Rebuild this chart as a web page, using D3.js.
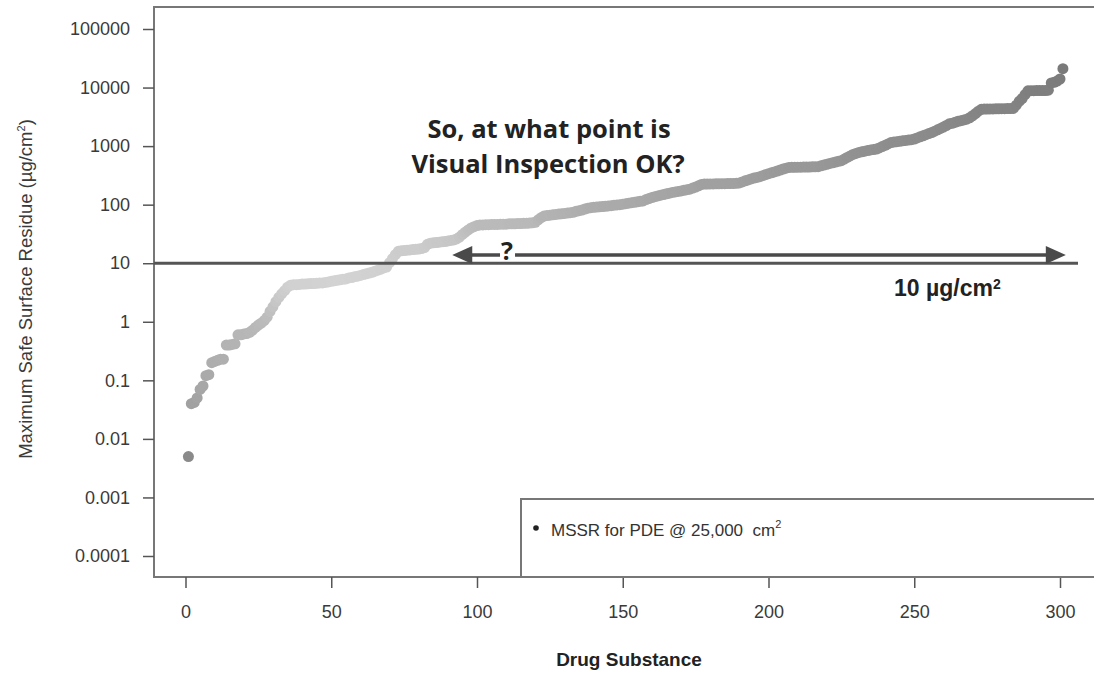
<!DOCTYPE html>
<html>
<head>
<meta charset="utf-8">
<script src="https://cdn.jsdelivr.net/npm/d3@7"></script>
<style>
  body { margin: 0; background: #fff; }
  svg { display: block; }
  text { white-space: pre; }
</style>
</head>
<body>
<script>
// MSSR values (ug/cm2) for each drug substance, sorted ascending
var mssr = [
  0.005, 0.04, 0.042, 0.05, 0.07, 0.08, 0.12, 0.125, 0.2, 0.21,
  0.22, 0.23, 0.23, 0.4, 0.4, 0.41, 0.42, 0.6, 0.6, 0.62,
  0.63, 0.66, 0.72, 0.8, 0.88, 0.95, 1.05, 1.2, 1.5, 1.8,
  2.2, 2.6, 3.0, 3.4, 3.9, 4.2, 4.3, 4.3, 4.35, 4.4,
  4.4, 4.45, 4.5, 4.5, 4.55, 4.6, 4.6, 4.7, 4.8, 4.9,
  5.0, 5.1, 5.2, 5.3, 5.4, 5.6, 5.7, 5.9, 6.0, 6.2,
  6.4, 6.6, 6.8, 7.0, 7.3, 7.6, 7.9, 8.3, 8.6, 10.2,
  12, 14, 16, 16.3, 16.5, 16.7, 16.9, 17.1, 17.3, 17.5,
  17.8, 18.5, 21, 22, 22.3, 22.6, 22.9, 23.2, 23.5, 24,
  24.5, 25, 26, 28, 31, 34, 37, 40, 42, 44,
  45, 45, 45.5, 45.5, 46, 46, 46, 46.5, 46.5, 46.5,
  47, 47, 47, 47.5, 47.5, 48, 48, 48.5, 49, 50,
  55, 60, 64, 65, 66, 67, 68, 69, 70, 71,
  72, 73, 74, 77, 79, 81, 84, 87, 89, 90,
  91, 92, 93, 94, 95, 96, 98, 99, 100, 102,
  104, 106, 108, 110, 112, 114, 116, 122, 127, 132,
  137, 141, 145, 149, 153, 157, 162, 165, 168, 172,
  176, 180, 184, 192, 200, 210, 222, 225, 225, 226,
  226, 227, 227, 228, 228, 229, 229, 230, 232, 235,
  245, 255, 265, 275, 285, 292, 300, 312, 325, 338,
  350, 362, 375, 390, 405, 420, 432, 434, 435, 436,
  437, 438, 439, 440, 442, 444, 446, 460, 475, 490,
  505, 520, 535, 550, 565, 600, 640, 680, 720, 750,
  780, 800, 820, 840, 860, 875, 890, 930, 980, 1030,
  1090, 1150, 1170, 1190, 1210, 1230, 1250, 1270, 1290, 1320,
  1380, 1440, 1500, 1570, 1640, 1700, 1800, 1900, 2000, 2120,
  2250, 2400, 2450, 2550, 2650, 2720, 2800, 2880, 3050, 3300,
  3600, 3950, 4250, 4300, 4300, 4320, 4320, 4340, 4340, 4360,
  4360, 4380, 4380, 4400, 5000, 5800, 6500, 7600, 8800, 8850,
  8850, 8870, 8870, 8900, 8900, 9000, 12000, 12300, 12900, 14000,
  21000
];

var xTicks = [0, 50, 100, 150, 200, 250, 300];
var yTicks = [0.0001, 0.001, 0.01, 0.1, 1, 10, 100, 1000, 10000, 100000];
var yTickLabels = ["0.0001", "0.001", "0.01", "0.1", "1", "10", "100", "1000", "10000", "100000"];

var limitValue = 10;          // visual inspection limit, ug/cm2
var arrowRange = [91.5, 302]; // drug substance span of the "?" arrow
var arrowValue = 13.8;
var questionAt = 110.3;

var svg = d3.select('body').append('svg')
    .attr('width', 1094)
    .attr('height', 673);

var plot = {left: 154, top: 7, bottom: 577, right: 1100};

var x = d3.scaleLinear().domain([0, 300]).range([185.5, 1060]);
var y = d3.scaleLog().domain([1e-4, 1e5]).range([556, 29]);

// grey shade follows the value
var shade = d3.scaleLinear()
    .domain([-2.3, -1.3, 0, 0.7, 1.3, 2, 3, 4.3])
    .range(['#8a8a8a', '#a3a3a3', '#bababa', '#d3d3d3', '#cbcbcb', '#aaaaaa', '#8e8e8e', '#7a7a7a']);

var axisFont = '"Liberation Sans", Arial, sans-serif';

// points
svg.append('g').selectAll('circle')
    .data(mssr)
    .enter().append('circle')
    .attr('cx', function(d, i) { return x(i + 1); })
    .attr('cy', function(d) { return y(d); })
    .attr('r', 5.5)
    .attr('fill', function(d) { return shade(Math.log10(d)); });

// frame
svg.append('rect')
    .attr('x', plot.left)
    .attr('y', plot.top)
    .attr('width', plot.right - plot.left)
    .attr('height', plot.bottom - plot.top)
    .attr('fill', 'none')
    .attr('stroke', '#777')
    .attr('stroke-width', 2);

// axes
var yaxis = svg.append('g')
    .attr('transform', 'translate(' + plot.left + ',0)')
    .call(d3.axisLeft(y).tickValues(yTicks)
        .tickFormat(function(d, i) { return yTickLabels[i]; })
        .tickSize(11).tickSizeOuter(0).tickPadding(13));

var xaxis = svg.append('g')
    .attr('transform', 'translate(0,' + plot.bottom + ')')
    .call(d3.axisBottom(x).tickValues(xTicks)
        .tickSize(11).tickSizeOuter(0).tickPadding(17));

[xaxis, yaxis].forEach(function(a) {
    a.select('.domain').remove();
    a.selectAll('line').attr('stroke', '#555').attr('stroke-width', 1.5);
    a.selectAll('text')
        .attr('fill', '#3a3a3a')
        .style('font-family', axisFont)
        .style('font-size', '18px');
});

// axis titles
var ylab = svg.append('text')
    .attr('transform', 'translate(32,289) rotate(-90)')
    .attr('text-anchor', 'middle')
    .attr('fill', '#3a3a3a')
    .style('font-family', axisFont)
    .style('font-size', '18.5px');
ylab.append('tspan').text('Maximum Safe Surface Residue (µg/cm');
ylab.append('tspan').attr('dy', -7).style('font-size', '11px').text('2');
ylab.append('tspan').attr('dy', 7).text(')');

svg.append('text')
    .attr('x', 629)
    .attr('y', 666)
    .attr('text-anchor', 'middle')
    .attr('fill', '#222')
    .style('font-family', axisFont)
    .style('font-weight', 'bold')
    .style('font-size', '19px')
    .text('Drug Substance');

// 10 ug/cm2 limit line
svg.append('line')
    .attr('x1', plot.left).attr('x2', 1078)
    .attr('y1', y(limitValue)).attr('y2', y(limitValue))
    .attr('stroke', '#555')
    .attr('stroke-width', 3);

// double arrow
var ay = y(arrowValue);
var ax0 = x(arrowRange[0]), ax1 = x(arrowRange[1]);
svg.append('line')
    .attr('x1', ax0 + 10).attr('x2', ax1 - 10)
    .attr('y1', ay).attr('y2', ay)
    .attr('stroke', '#4a4a4a')
    .attr('stroke-width', 3.5);
svg.append('path')
    .attr('d', 'M' + ax0 + ',' + ay + 'L' + (ax0 + 20) + ',' + (ay - 9) + 'L' + (ax0 + 20) + ',' + (ay + 9) + 'Z')
    .attr('fill', '#4a4a4a');
svg.append('path')
    .attr('d', 'M' + ax1 + ',' + ay + 'L' + (ax1 - 20) + ',' + (ay - 9) + 'L' + (ax1 - 20) + ',' + (ay + 9) + 'Z')
    .attr('fill', '#4a4a4a');

svg.append('rect')
    .attr('x', x(questionAt) - 7).attr('y', ay - 6)
    .attr('width', 15).attr('height', 12)
    .attr('fill', '#fff');
svg.append('text')
    .attr('x', x(questionAt))
    .attr('y', 260)
    .attr('text-anchor', 'middle')
    .attr('fill', '#222')
    .style('font-family', '"Open Sans", sans-serif')
    .style('font-weight', 'bold')
    .style('font-size', '25px')
    .text('?');

// limit label
var lim = svg.append('text')
    .attr('x', 894)
    .attr('y', 296)
    .attr('fill', '#222')
    .style('font-family', axisFont)
    .style('font-weight', 'bold')
    .style('font-size', '23px');
lim.append('tspan').text('10 µg/cm');
lim.append('tspan').attr('dy', -7).style('font-size', '14px').text('2');

// question
var q = svg.append('text')
    .attr('text-anchor', 'middle')
    .attr('fill', '#222')
    .style('font-family', '"Open Sans", sans-serif')
    .style('font-weight', 'bold')
    .style('font-size', '25.5px');
q.append('tspan').attr('x', 549).attr('y', 138).text('So, at what point is');
q.append('tspan').attr('x', 548).attr('y', 173).text('Visual Inspection OK?');

// legend
svg.append('rect')
    .attr('x', 521).attr('y', 499)
    .attr('width', 700).attr('height', plot.bottom - 499)
    .attr('fill', '#fff')
    .attr('stroke', '#777')
    .attr('stroke-width', 2);
svg.append('circle')
    .attr('cx', 536).attr('cy', 528)
    .attr('r', 2.8)
    .attr('fill', '#222');
var leg = svg.append('text')
    .attr('x', 551).attr('y', 536)
    .attr('fill', '#333')
    .style('font-family', axisFont)
    .style('font-size', '17px');
leg.append('tspan').text('MSSR for PDE @ 25,000  cm');
leg.append('tspan').attr('dy', -8).style('font-size', '11px').text('2');
</script>
</body>
</html>
